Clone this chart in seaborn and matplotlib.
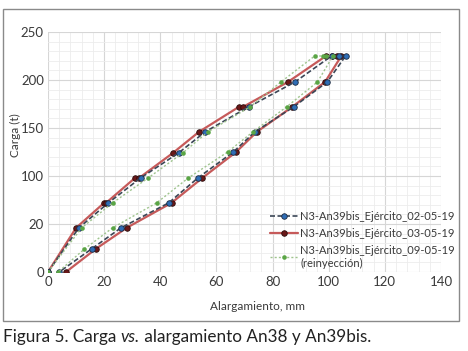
import matplotlib
matplotlib.use("Agg")
import matplotlib.pyplot as plt
from matplotlib.patches import Rectangle
from matplotlib.ticker import MultipleLocator
import seaborn as sns

# data (load in t, elongation in mm)
x_0205 = [0, 11, 21.5, 33, 46.5, 56, 71.5, 88, 101, 103.5, 106,
          99.5, 87.5, 73.7, 66, 53.4, 43, 26, 15.5, 4]
y_0205 = [0, 46, 72, 98, 124, 146, 172, 198, 225, 225, 225,
          198, 172, 146, 125, 98, 72, 46, 24, 0]

x_0305 = [0, 10, 20, 20.7, 31, 32.5, 44.5, 53.8, 68, 69.5, 85.5, 99, 101, 103, 104.5,
          98.7, 87, 74.4, 67, 55, 44, 28, 17, 6.4]
y_0305 = [0, 46, 72, 72, 98, 98, 124, 146, 172, 172, 198, 225, 225, 225, 225,
          198, 172, 146, 125, 98, 72, 46, 24, 0]

x_0905 = [0, 12, 23, 35.7, 48, 57, 72, 83, 95, 98, 99, 101.5,
          96, 85, 73, 64, 50, 38.7, 23, 13, 3.6]
y_0905 = [0, 46, 72, 98, 124, 146, 172, 198, 225, 225, 225, 225,
          198, 172, 146, 125, 98, 72, 46, 24, 0]

labels = ["N3-An39bis_Ejército_02-05-19",
          "N3-An39bis_Ejército_03-05-19",
          "N3-An39bis_Ejército_09-05-19\n(reinyección)"]

y_ticks = [0, 50, 100, 150, 200, 250]
y_ticklabels = ["0", "20", "100", "150", "200", "250"]
x_ticks = [0, 20, 40, 60, 80, 100, 120, 140]

sns.set_theme(style="white")
plt.rcParams['font.family'] = ['Lato', 'DejaVu Sans']

fig = plt.figure(figsize=(4.68, 3.51), dpi=100)
ax = fig.add_axes([48/468, 1-272/351, (441-48)/468, (272-32)/351])

sns.lineplot(x=x_0205, y=y_0205, sort=False, estimator=None, ax=ax,
             color='#3b4656', lw=1.2, linestyle=(0, (3, 1.5)),
             marker='o', markersize=4, markerfacecolor='#2f6db5',
             markeredgecolor='#1c2a40', markeredgewidth=0.6, label=labels[0], zorder=3)
sns.lineplot(x=x_0305, y=y_0305, sort=False, estimator=None, ax=ax,
             color='#c65a5a', lw=1.6,
             marker='o', markersize=4, markerfacecolor='#6a1818',
             markeredgecolor='#2a0c0c', markeredgewidth=0.6, label=labels[1], zorder=2)
sns.lineplot(x=x_0905, y=y_0905, sort=False, estimator=None, ax=ax,
             color='#9fc48e', lw=1.0, linestyle=(0, (1.5, 1.5)),
             marker='o', markersize=3.3, markerfacecolor='#5aa545',
             markeredgecolor='#5aa545', markeredgewidth=0, label=labels[2], zorder=4)

ax.set_xlim(0, 140)
ax.set_ylim(0, 250)
ax.set_xticks(x_ticks)
ax.set_yticks(y_ticks)
ax.set_yticklabels(y_ticklabels)
ax.xaxis.set_minor_locator(MultipleLocator(4))
ax.yaxis.set_minor_locator(MultipleLocator(10))
ax.grid(which='major', color='#d6d6d6', lw=0.8)
ax.grid(which='minor', color='#ececec', lw=0.6)
ax.set_axisbelow(True)
for s in ax.spines.values():
    s.set_visible(False)
ax.tick_params(which='both', length=0, labelsize=9.5, colors='#3a3a3a', pad=3)
ax.set_xlabel('')
ax.set_ylabel('')

fig.text(15/468, 1-135/351, 'Carga (t)', rotation=90, ha='center', va='center',
         fontsize=8.5, color='#3a3a3a')
fig.text(258/468, 1-306/351, 'Alargamiento, mm', ha='center', va='center',
         fontsize=8.5, color='#3a3a3a')

ax.legend(loc='upper left', bbox_to_anchor=(264/468, 1-205/351),
          bbox_transform=fig.transFigure, frameon=False, fontsize=8,
          handlelength=2.6, handletextpad=0.15, labelspacing=0.55, borderpad=0,
          labelcolor='#3a3a3a')

# outer frame
fig.patches.append(Rectangle((3/468, 1-321/351), 456/468, 312/351,
                             transform=fig.transFigure, fill=False,
                             edgecolor='#8a8a8a', lw=1.0))

# caption, written in pieces so "vs." can be italic
cap_y = 1 - 337/351
renderer = fig.canvas.get_renderer()
x_px = 3
for piece, style in [('Figura 5. Carga ', 'normal'), ('vs.', 'italic'),
                     (' alargamiento An38 y An39bis.', 'normal')]:
    t = fig.text(x_px/468, cap_y, piece, ha='left', va='center', fontsize=12.3,
                 style=style, color='#222222')
    x_px += t.get_window_extent(renderer).width

fig.savefig('out.png', dpi=100)
